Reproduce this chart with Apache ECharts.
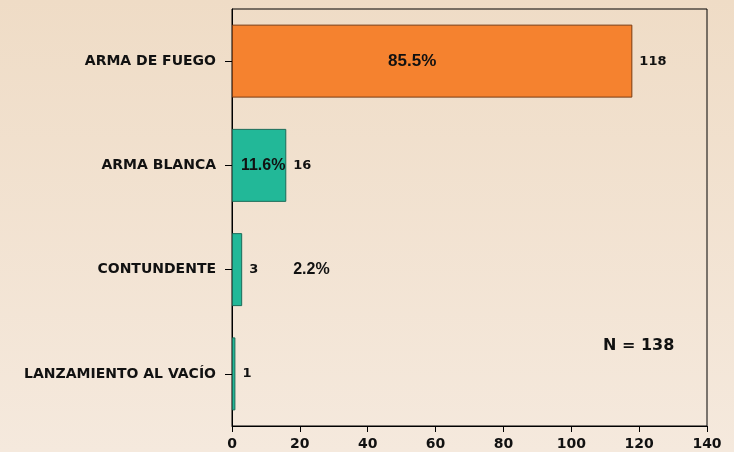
<!DOCTYPE html>
<html>
<head>
<meta charset="utf-8">
<script src="https://cdn.jsdelivr.net/npm/echarts@6/dist/echarts.min.js"></script>
<style>
  html, body { margin: 0; padding: 0; }
  #chart { width: 734px; height: 452px; }
</style>
</head>
<body>
<div id="chart"></div>
<script>
// datos
var categories = ['ARMA DE FUEGO', 'ARMA BLANCA', 'CONTUNDENTE', 'LANZAMIENTO AL VACÍO'];
var counts = [118, 16, 3, 1];
var percents = ['85.5%', '11.6%', '2.2%', ''];
var total = 138;
var xTicks = [0, 20, 40, 60, 80, 100, 120, 140];

var wide = 'DejaVu Sans, sans-serif';
var narrow = 'Liberation Sans, Arial, sans-serif';
var chart = echarts.init(document.getElementById('chart'));

var barData = counts.map(function (v, i) {
    return {
        value: v,
        itemStyle: i === 0
            ? { color: '#F5822F', borderColor: '#7a3a10', borderWidth: 1 }
            : { color: '#22B898', borderColor: '#1a6b58', borderWidth: 1 }
    };
});

// capa de porcentajes encima de las barras (posicion como en el original)
var pctLabelTweaks = [
    { offset: [-20, 0], fontSize: 17 },
    { offset: [4, 0] },
    { position: 'right', offset: [46, 0] },
    {}
];
var pctData = counts.map(function (v, i) {
    return { value: v, itemStyle: { color: 'transparent' }, label: pctLabelTweaks[i] };
});

var option = {
    backgroundColor: {
        type: 'linear', x: 0, y: 0, x2: 0, y2: 1,
        colorStops: [
            { offset: 0, color: '#EFDCC6' },
            { offset: 1, color: '#F5E9DD' }
        ]
    },
    animation: false,
    grid: {
        left: 232, right: 27, top: 9, bottom: 26,
        show: true, borderColor: '#000', borderWidth: 1
    },
    xAxis: {
        type: 'value',
        min: xTicks[0], max: xTicks[xTicks.length - 1], interval: 20,
        axisLine: { show: true, lineStyle: { color: '#000' } },
        axisTick: { show: true, length: 6, lineStyle: { color: '#000' } },
        splitLine: { show: false },
        axisLabel: { color: '#111', fontFamily: wide, fontWeight: 'bold', fontSize: 14, margin: 11 }
    },
    yAxis: {
        type: 'category',
        inverse: true,
        data: categories,
        axisLine: { show: true, lineStyle: { color: '#000' } },
        axisTick: { show: true, alignWithLabel: true, length: 7, lineStyle: { color: '#000' } },
        axisLabel: { color: '#111', fontFamily: wide, fontWeight: 'bold', fontSize: 14, margin: 16 }
    },
    series: [
        {
            type: 'bar',
            data: barData,
            barCategoryGap: '30%',
            label: {
                show: true, position: 'right', distance: 7,
                color: '#111', fontFamily: wide, fontWeight: 'bold', fontSize: 13
            }
        },
        {
            type: 'bar',
            data: pctData,
            barGap: '-100%',
            barCategoryGap: '30%',
            silent: true,
            label: {
                show: true, position: 'inside',
                color: '#111', fontFamily: narrow, fontWeight: 'bold', fontSize: 16,
                formatter: function (p) { return percents[p.dataIndex]; }
            }
        }
    ],
    graphic: [
        {
            type: 'text', left: 603, top: 338,
            style: {
                text: 'N = ' + total,
                fill: '#111',
                font: 'bold 16px ' + wide
            }
        }
    ]
};

chart.setOption(option);
</script>
</body>
</html>
